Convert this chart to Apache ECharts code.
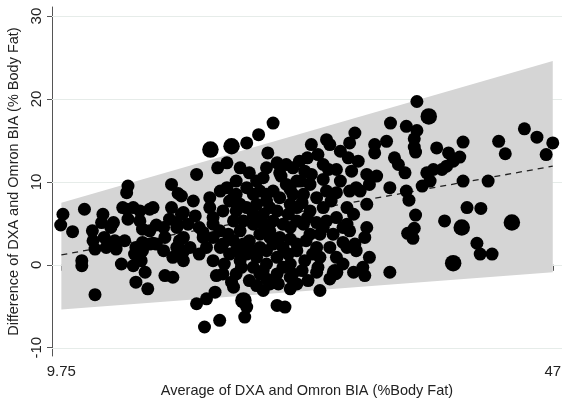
<!DOCTYPE html>
<html><head><meta charset="utf-8">
<script src="https://cdn.jsdelivr.net/npm/echarts@6/dist/echarts.min.js"></script>
<style>html,body{margin:0;padding:0;background:#fff}#c{width:562px;height:402px}</style>
</head><body><div id="c"></div>
<script>
// Average of DXA and Omron BIA (x) and Difference (y)
const avgX = [
9.87,9.7,10.6,11.5,11.3,11.3,12.3,12.1,12.15,12.3,12.9,12.8,13.0,13.15,13.7,13.8,13.5,14.8,14.7,14.7,14.8,14.3,15.2,15.4,16.3,15.7,16.45,16.7,15.9,16.45,15.4,15.9,15.3,15.8,16.1,16.95,17.5,17.6,17.5,17.6,18.2,18.1,18.1,18.5,18.5,18.6,16.7,19.0,16.95,
25.8,24.7,23.8,25.4,22.3,21.6,23.3,20.0,24.0,23.0,25.3,26.1,26.8,18.85,19.75,19.0,19.9,21.0,21.8,22.5,23.0,23.8,24.55,26.3,27.3,25.8,26.8,25.3,26.3,27.3,18.5,19.35,20.2,21.25,22.0,23.0,23.8,24.55,25.05,26.1,26.95,18.7,19.5,20.2,18.2,19.0,21.25,21.8,22.4,23.3,24.0,24.8,25.55,26.3,27.1,23.0,23.8,24.55,25.3,26.1,26.95,21.25,22.1,23.4,21.5,22.65,24.0,25.05,26.1,25.55,27.1,21.4,20.75,20.0,23.8,23.65,21.75,20.6,26.1,26.7,
24.3,23.55,24.3,25.05,25.8,26.55,22.8,24.8,25.8,26.55,23.55,22.8,24.3,25.3,26.55,27.3,23.0,22.3,25.05,21.0,20.5,20.75,
34.7,35.9,32.0,31.6,29.85,30.1,28.7,33.5,34.4,33.5,35.0,35.3,35.8,30.9,31.5,32.25,29.2,27.8,28.2,29.6,30.6,31.75,32.9,33.65,33.1,34.65,35.9,27.6,28.6,29.6,30.9,32.1,31.6,28.1,29.1,30.2,32.9,31.4,27.6,28.6,29.6,30.6,31.1,29.35,30.35,31.6,32.75,31.1,32.0,28.1,28.3,27.6,28.8,28.2,29.35,33.1,31.9,32.75,34.65,27.6,28.45,29.35,28.4,
36.7,36.7,36.5,36.5,36.6,36.1,36.6,36.0,36.5,36.4,
38.2,39.1,40.2,39.95,39.45,38.95,38.6,37.95,37.45,37.7,37.1,40.2,42.1,42.9,43.4,44.85,45.8,47.0,46.5,40.5,41.55,38.8,41.25,41.5,42.4,
22.8,23.3,24.8,25.3,24.3,25.55,24.8,25.55,24.3,24.8,25.3,24.55,25.05,20.5,21.25,21.75,22.0,22.5,23.3,22.0,22.8,
30.0,26.4,28.7,27.9,27.1,28.0,27.1,28.4,27.6,29.1,29.6,27.1,28.6,27.6,29.1,30.1,30.6,27.1,28.0,29.1,30.1,27.1,29.85,30.6,29.85,29.2,26.2,
32.4,31.9,31.4,32.9,31.4,32.1,32.6,31.1,
14.4,15.2,15.7,17.95,18.85,15.9,16.45,13.9,14.55,19.0
];
const diffY = [
6.1,4.8,4.0,6.7,0.5,-0.1,-3.6,4.1,2.9,1.9,6.1,5.1,3.3,2.1,5.1,2.9,4.5,9.5,8.7,6.7,5.5,0.1,-0.1,-2.1,-2.9,6.5,6.7,6.9,4.3,4.1,2.1,2.7,1.3,0.5,-0.9,2.5,4.5,3.3,1.7,-1.3,-1.5,9.7,6.9,5.1,2.1,8.6,2.6,1.6,4.8,
17.1,15.7,14.7,13.5,12.3,11.7,11.7,10.9,11.1,10.1,11.7,12.3,12.1,8.3,7.7,6.3,5.9,8.1,8.9,7.7,8.5,9.3,10.1,11.1,11.7,8.9,9.7,8.5,8.1,8.5,4.5,4.9,4.5,5.7,6.5,6.5,6.9,7.3,6.1,6.5,6.1,2.9,2.1,1.3,0.9,0.5,3.3,2.1,3.7,4.1,2.9,3.7,4.1,3.3,4.5,1.7,1.3,0.9,1.7,0.9,1.3,0.5,0.1,-0.3,-1.3,-2.1,-1.9,-0.7,-1.1,-2.3,-2.9,-3.3,-4.1,-4.7,-5.1,-6.3,-6.7,-7.5,-4.9,-5.1,
8.5,5.3,4.9,4.9,5.3,4.9,5.3,2.1,2.5,2.1,2.5,2.9,-0.3,0.1,-0.3,-1.1,-1.1,9.3,10.5,6.9,3.9,2.1,
17.1,16.7,15.9,14.7,15.1,14.5,14.5,14.5,14.9,13.5,12.9,12.1,11.1,13.7,12.9,12.5,13.3,12.5,11.3,12.1,11.5,11.3,10.9,10.7,9.7,9.3,8.9,10.1,9.7,10.3,10.1,9.3,8.9,8.5,8.1,7.7,7.3,6.9,6.9,6.5,6.9,5.7,4.5,3.7,3.7,4.1,3.3,2.7,2.5,4.9,2.9,1.7,1.3,0.5,0.9,0.9,-0.9,-1.3,-0.9,-2.3,-1.9,-3.1,12.9,
19.7,16.2,15.2,14.2,13.6,7.8,6.0,3.8,4.4,3.2,
14.1,13.5,14.8,13.0,12.5,11.9,11.5,11.5,11.1,10.1,9.5,10.1,10.1,14.9,13.4,16.4,15.4,14.7,13.3,6.9,6.8,5.3,2.6,1.3,1.3,
8.1,7.3,8.9,7.7,6.1,6.9,5.5,3.3,1.7,-1.1,-1.7,-2.5,-3.1,3.3,4.9,4.1,2.5,1.3,0.5,-1.1,-2.7,
11.5,10.7,10.9,10.1,9.1,7.5,7.3,5.7,5.3,5.1,4.5,3.1,3.7,2.5,2.1,2.1,0.9,0.1,-0.7,-0.9,-1.7,-1.5,5.3,8.7,8.9,-0.3,-2.3,
8.9,6.1,4.9,4.5,2.1,1.7,-0.3,0.1,
6.9,6.9,5.3,5.5,6.1,1.7,2.5,1.9,2.9,3.3
];
// heavier-weighted observations (drawn larger)
const bigX = [21.05,22.65,23.55,37.6,30.5,40.1,43.9,39.45];
const bigY = [13.9,14.3,-4.3,17.9,-0.9,4.5,5.1,0.2];
// limits of agreement band and regression line
const bandX = [9.75,47];
const bandUpper = [7.5,24.6];
const bandLower = [-5.4,-0.9];
const fitY = [1.2,11.9];
const yTicks = [-10,0,10,20,30];
const xTicks = [9.75,47];

const pts = avgX.map((x,i)=>[x,diffY[i]]);
const bigPts = bigX.map((x,i)=>[x,bigY[i]]);
const FONT = 'Liberation Sans, Arial, sans-serif';
const chart = echarts.init(document.getElementById('c'));
chart.setOption({
  animation:false,
  backgroundColor:'#fff',
  grid:{left:52,right:0,top:7,bottom:46,containLabel:false,outerBoundsMode:'none'},
  xAxis:{type:'value',min:9.04,max:47.7,
    axisLine:{show:true,lineStyle:{color:'#555',width:1}},
    axisTick:{show:true,length:6,customValues:xTicks,lineStyle:{color:'#555'}},
    axisLabel:{customValues:xTicks,margin:8,fontSize:15,color:'#222',fontFamily:FONT},
    splitLine:{show:false},
    name:'Average of DXA and Omron BIA (%Body Fat)',nameLocation:'middle',nameGap:25,
    nameTextStyle:{fontSize:14.5,color:'#222',fontFamily:FONT}},
  yAxis:{type:'value',min:-11,max:31.1,
    axisLine:{show:true,lineStyle:{color:'#555',width:1}},
    axisTick:{show:true,length:5,customValues:yTicks,lineStyle:{color:'#555'}},
    axisLabel:{customValues:yTicks,rotate:90,margin:8,fontSize:15,color:'#222',fontFamily:FONT},
    splitLine:{show:false},
    name:'Difference of DXA and Omron BIA (% Body Fat)',nameLocation:'middle',nameGap:26,
    nameTextStyle:{fontSize:14.5,color:'#222',fontFamily:FONT}},
  series:[
    {type:'custom',z:1,silent:true,data:[[bandX[0],bandLower[0]]],
      renderItem:(params,api)=>{
        const cs=params.coordSys;
        const children=yTicks.map(v=>{
          const y=Math.round(api.coord([bandX[0],v])[1])+0.5;
          return {type:'line',shape:{x1:cs.x,y1:y,x2:cs.x+cs.width,y2:y},style:{stroke:'#e6ece9',lineWidth:1}};
        });
        const p=[];
        for(let i=0;i<bandX.length;i++) p.push(api.coord([bandX[i],bandUpper[i]]));
        for(let i=bandX.length-1;i>=0;i--) p.push(api.coord([bandX[i],bandLower[i]]));
        children.push({type:'polygon',shape:{points:p},style:{fill:'#d5d5d5'}});
        return {type:'group',children:children};
      }},
    {type:'line',z:2,data:bandX.map((x,i)=>[x,fitY[i]]),symbol:'none',silent:true,
      lineStyle:{color:'#222',width:1.3,type:[6,5]}},
    {type:'scatter',z:3,data:pts,symbolSize:13,itemStyle:{color:'#000',opacity:1}},
    {type:'scatter',z:3,data:bigPts,symbolSize:16.5,itemStyle:{color:'#000',opacity:1}}
  ]
});
</script></body></html>
